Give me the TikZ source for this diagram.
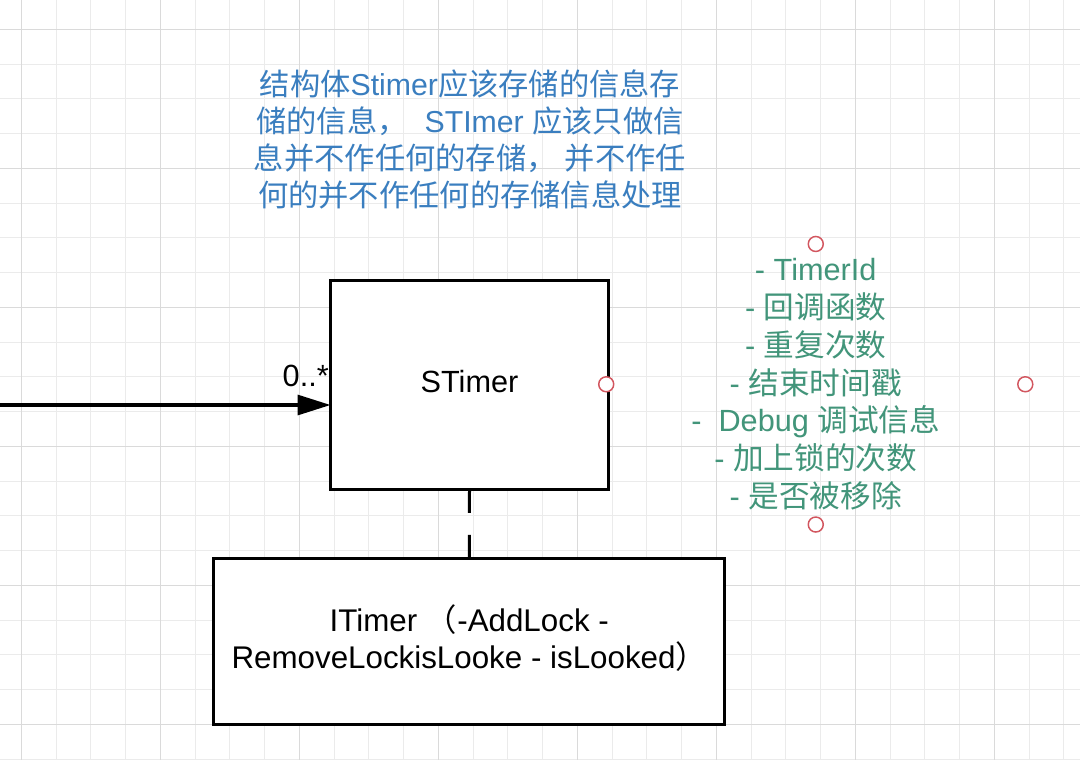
\documentclass[tikz,border=0pt]{standalone}
\usepackage{fontspec}
\setmainfont{Liberation Sans}
\newfontfamily\cjk{Noto Sans CJK SC}
\usetikzlibrary{arrows.meta}
\definecolor{gridminor}{HTML}{EBEBEB}
\definecolor{gridmajor}{HTML}{DADADA}
\definecolor{noteblue}{HTML}{3A7EBF}
\definecolor{notegreen}{HTML}{42957A}
\definecolor{handlered}{HTML}{D2565F}
\begin{document}
\begin{tikzpicture}[x=0.75pt,y=-0.75pt,
  minorline/.style={draw=gridminor,line width=0.75pt},
  majorline/.style={draw=gridmajor,line width=0.75pt},
  umlbox/.style={draw=black,line width=2.25pt,fill=white,inner sep=0pt,outer sep=0pt},
  bigfont/.style={font=\fontsize{23pt}{27.75pt}\selectfont},
  plainlabel/.style={bigfont,inner sep=0pt,text=black},
  handle/.style={circle,draw=handlered,fill=white,line width=1.1pt,minimum size=11.25pt,inner sep=0pt},
  assoc/.style={draw=black,line width=2.4pt,-{Triangle[length=24.75pt,width=15pt]}},
  dashlink/.style={draw=black,line width=2.25pt,dash pattern=on 17.25pt off 16.5pt}
]
\fill[white] (0,0) rectangle (1080,760);
\useasboundingbox (0,0) rectangle (1080,760);
% grid
\foreach \k in {0,...,30} { \draw[minorline] ({21.3+34.75*\k},0) -- ({21.3+34.75*\k},760); }
\foreach \k in {0,...,21} { \draw[minorline] (0,{29.3+34.75*\k}) -- (1080,{29.3+34.75*\k}); }
\foreach \k in {0,4,...,28} { \draw[majorline] ({21.3+34.75*\k},0) -- ({21.3+34.75*\k},760); }
\foreach \k in {0,4,...,20} { \draw[majorline] (0,{29.3+34.75*\k}) -- (1080,{29.3+34.75*\k}); }

% blue note
\node[font=\fontsize{22.7pt}{27.75pt}\selectfont,text=noteblue,align=center,inner sep=0pt] (note) at (470,139)
  {{\cjk 结构体}Stimer{\cjk 应该存储的信息存}\\
   {\cjk 储的信息，}\ \ STImer {\cjk 应该只做信}\\
   {\cjk 息并不作任何的存储，} {\cjk 并不作任}\\
   {\cjk 何的并不作任何的存储信息处理}};

% boxes
\node[umlbox,minimum width=208.5pt,minimum height=157.1pt] (stimer) at (469.5,385.25) {};
\node[plainlabel] (stimerlabel) at (469.5,381.7) {STimer};
\node[umlbox,minimum width=383.6pt,minimum height=124.3pt] (itimer) at (469.25,641.15) {};
\node[plainlabel,align=center,font=\fontsize{23.5pt}{27.75pt}\selectfont] (itimerlabel) at (469.25,638.5)
  {ITimer {\cjk （}-AddLock -\\RemoveLockisLooke - isLooked{\cjk ）}};

% association arrow
\coordinate (arrowstart) at (0,405);
\draw[assoc] (arrowstart) -- (arrowstart -| stimer.west);
\node[plainlabel,anchor=base east] (mult) at (329,386.5) {0..*};

% dashed link
\draw[dashlink] (stimer.south) -- (itimer.north);

% green field list
\node[font=\fontsize{23pt}{28.35pt}\selectfont,text=notegreen,align=center,inner sep=0pt,
      minimum width=313.9pt,minimum height=210pt] (fields) at (815.75,384.25)
  {- TimerId\\
   - {\cjk 回调函数}\\
   - {\cjk 重复次数}\\
   - {\cjk 结束时间戳}\\
   -\ \ Debug {\cjk 调试信息}\\
   - {\cjk 加上锁的次数}\\
   - {\cjk 是否被移除}};
\foreach \a in {north,south,east,west} { \node[handle] (h-\a) at (fields.\a) {}; }
\end{tikzpicture}
\end{document}
